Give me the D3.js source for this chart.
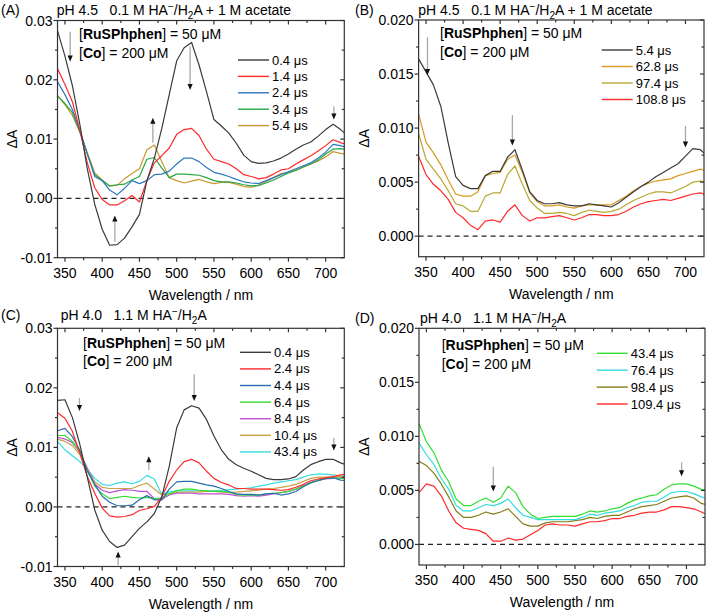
<!DOCTYPE html>
<html><head><meta charset="utf-8">
<script src="https://cdn.jsdelivr.net/npm/d3@7"></script>
<style>body{margin:0;background:#fff}svg{display:block}text{font-family:"Liberation Sans",Arial,sans-serif;fill:#000}</style>
</head><body><svg id="c" width="709" height="615"></svg>
<script>
// ---------- DATA ----------
const wavelengths = [340,350,360,370,380,390,400,410,420,430,440,450,460,470,480,490,500,510,520,530,540,550,560,570,580,590,600,610,620,630,640,650,660,670,680,690,700,710,720,730];
const xTicks = [350,400,450,500,550,600,650,700];
const xTickLabels = ["350","400","450","500","550","600","650","700"];
const xMinorTicks = [375,425,475,525,575,625,675];
const yTicksAC = [-0.01,0,0.01,0.02,0.03];
const yTickLabelsAC = ["-0.01","0.00","0.01","0.02","0.03"];
const yMinorAC = [-0.005,0.005,0.015,0.025];
const yTicksBD = [0,0.005,0.01,0.015,0.02];
const yTickLabelsBD = ["0.000","0.005","0.010","0.015","0.020"];
const yMinorBD = [0.0025,0.0075,0.0125,0.0175];

// Panel A
const A_labels = ["0.4 μs","1.4 μs","2.4 μs","3.4 μs","5.4 μs"];
const A_04 = [0.0283,0.0240,0.0190,0.0125,0.0050,-0.0010,-0.0052,-0.0079,-0.0078,-0.0067,
 -0.0048,-0.0027,0.0030,0.0068,0.0118,0.0175,0.0232,0.0254,0.0263,0.0225,
 0.0180,0.0133,0.0122,0.0110,0.0093,0.0073,0.0062,0.0059,0.0060,0.0063,
 0.0068,0.0075,0.0083,0.0090,0.0095,0.0105,0.0116,0.0125,0.0116,0.0105];
const A_14 = [0.0219,0.0192,0.0163,0.0115,0.0060,0.0018,-0.0002,-0.0011,-0.0011,-0.0004,
 0.0005,-0.0006,0.0030,0.0060,0.0072,0.0085,0.0108,0.0116,0.0118,0.0106,
 0.0083,0.0066,0.0062,0.0058,0.0050,0.0040,0.0037,0.0033,0.0035,0.0041,
 0.0048,0.0050,0.0058,0.0065,0.0072,0.0080,0.0089,0.0099,0.0094,0.0090];
const A_24 = [0.0197,0.0175,0.0150,0.0115,0.0075,0.0037,0.0030,0.0014,0.0006,0.0017,
 0.0030,0.0025,0.0030,0.0040,0.0041,0.0046,0.0058,0.0068,0.0068,0.0062,
 0.0052,0.0044,0.0041,0.0037,0.0032,0.0028,0.0026,0.0025,0.0030,0.0035,
 0.0040,0.0045,0.0050,0.0055,0.0060,0.0068,0.0078,0.0091,0.0089,0.0085];
const A_34 = [0.0173,0.0160,0.0145,0.0112,0.0075,0.0040,0.0030,0.0021,0.0023,0.0024,
 0.0031,0.0037,0.0066,0.0069,0.0051,0.0035,0.0041,0.0041,0.0040,0.0039,
 0.0035,0.0030,0.0028,0.0028,0.0026,0.0023,0.0021,0.0022,0.0026,0.0031,
 0.0037,0.0043,0.0047,0.0053,0.0058,0.0065,0.0075,0.0083,0.0084,0.0082];
const A_54 = [0.0173,0.0158,0.0140,0.0112,0.0077,0.0043,0.0031,0.0021,0.0022,0.0033,
 0.0042,0.0050,0.0082,0.0090,0.0062,0.0035,0.0030,0.0026,0.0029,0.0032,
 0.0028,0.0025,0.0027,0.0027,0.0024,0.0020,0.0019,0.0022,0.0028,0.0035,
 0.0042,0.0044,0.0048,0.0053,0.0058,0.0063,0.0070,0.0079,0.0076,0.0074];
const A_colors = ["#3a3a3a","#ff2a2a","#2f78c0","#28a745","#c99a2e"];

// Panel B
const B_labels = ["5.4 μs","62.8 μs","97.4 μs","108.8 μs"];
const B_54 = [0.0164,0.0152,0.0140,0.0120,0.0086,0.0055,0.0047,0.0044,0.0044,0.0056,
 0.0060,0.0060,0.0073,0.0080,0.0061,0.0041,0.0033,0.0030,0.0030,0.0031,
 0.0029,0.0028,0.0028,0.0030,0.0029,0.0028,0.0027,0.0031,0.0036,0.0041,
 0.0046,0.0050,0.0055,0.0059,0.0063,0.0067,0.0074,0.0081,0.0080,0.0074];
const B_628 = [0.0113,0.0087,0.0077,0.0066,0.0052,0.0039,0.0037,0.0037,0.0041,0.0056,
 0.0058,0.0059,0.0071,0.0075,0.0059,0.0040,0.0032,0.0028,0.0028,0.0029,
 0.0027,0.0026,0.0028,0.0029,0.0029,0.0029,0.0029,0.0033,0.0037,0.0042,
 0.0046,0.0049,0.0051,0.0052,0.0053,0.0056,0.0058,0.0060,0.0062,0.0060];
const B_974 = [0.0095,0.0071,0.0062,0.0053,0.0042,0.0030,0.0028,0.0023,0.0023,0.0037,
 0.0040,0.0040,0.0057,0.0065,0.0048,0.0033,0.0026,0.0021,0.0021,0.0022,
 0.0021,0.0019,0.0022,0.0024,0.0023,0.0022,0.0023,0.0025,0.0029,0.0033,
 0.0036,0.0039,0.0041,0.0041,0.0040,0.0043,0.0046,0.0050,0.0051,0.0050];
const B_1088 = [0.0074,0.0057,0.0048,0.0042,0.0034,0.0022,0.0017,0.0010,0.0006,0.0014,
 0.0015,0.0013,0.0023,0.0029,0.0019,0.0014,0.0017,0.0017,0.0018,0.0019,
 0.0017,0.0015,0.0017,0.0020,0.0020,0.0019,0.0019,0.0020,0.0023,0.0027,
 0.0030,0.0032,0.0033,0.0034,0.0033,0.0035,0.0037,0.0039,0.0040,0.0038];
const B_colors = ["#3a3a3a","#d69a1e","#b8a832","#ff2a2a"];

// Panel C
const C_labels = ["0.4 μs","2.4 μs","4.4 μs","6.4 μs","8.4 μs","10.4 μs","43.4 μs"];
const C_04 = [0.0179,0.0180,0.0150,0.0105,0.0050,-0.0005,-0.0039,-0.0058,-0.0068,-0.0064,
 -0.0050,-0.0036,-0.0025,-0.0011,0.0017,0.0068,0.0133,0.0163,0.0170,0.0166,
 0.0147,0.0119,0.0096,0.0080,0.0071,0.0065,0.0060,0.0054,0.0048,0.0046,
 0.0046,0.0047,0.0051,0.0062,0.0071,0.0076,0.0080,0.0080,0.0074,0.0070];
const C_24 = [0.0158,0.0149,0.0127,0.0090,0.0051,0.0023,-0.0002,-0.0015,-0.0017,-0.0016,
 -0.0013,-0.0006,-0.0003,0.0001,0.0017,0.0043,0.0062,0.0076,0.0080,0.0074,
 0.0060,0.0048,0.0041,0.0037,0.0031,0.0031,0.0030,0.0030,0.0030,0.0029,
 0.0028,0.0029,0.0033,0.0038,0.0044,0.0047,0.0049,0.0051,0.0054,0.0055];
const C_44 = [0.0128,0.0132,0.0118,0.0095,0.0060,0.0038,0.0018,0.0008,0.0002,0.0002,
 0.0003,0.0012,0.0019,0.0012,0.0012,0.0030,0.0042,0.0043,0.0043,0.0040,
 0.0037,0.0035,0.0031,0.0026,0.0022,0.0021,0.0021,0.0020,0.0022,0.0023,
 0.0020,0.0022,0.0026,0.0034,0.0041,0.0044,0.0048,0.0049,0.0045,0.0044];
const C_64 = [0.0120,0.0120,0.0110,0.0092,0.0062,0.0035,0.0022,0.0014,0.0016,0.0018,
 0.0016,0.0015,0.0016,0.0014,0.0015,0.0022,0.0027,0.0030,0.0030,0.0028,
 0.0027,0.0026,0.0026,0.0025,0.0021,0.0020,0.0020,0.0020,0.0022,0.0023,
 0.0024,0.0026,0.0030,0.0035,0.0040,0.0045,0.0048,0.0049,0.0048,0.0048];
const C_84 = [0.0117,0.0114,0.0108,0.0092,0.0065,0.0038,0.0028,0.0024,0.0027,0.0029,
 0.0028,0.0026,0.0026,0.0014,0.0013,0.0020,0.0023,0.0023,0.0023,0.0022,
 0.0022,0.0022,0.0022,0.0021,0.0019,0.0018,0.0019,0.0018,0.0020,0.0022,
 0.0024,0.0026,0.0030,0.0036,0.0041,0.0045,0.0047,0.0048,0.0049,0.0049];
const C_104 = [0.0114,0.0110,0.0103,0.0088,0.0065,0.0042,0.0033,0.0031,0.0031,0.0031,
 0.0031,0.0036,0.0040,0.0030,0.0020,0.0022,0.0024,0.0025,0.0025,0.0025,
 0.0026,0.0026,0.0025,0.0024,0.0025,0.0026,0.0027,0.0028,0.0030,0.0031,
 0.0033,0.0035,0.0038,0.0043,0.0048,0.0050,0.0050,0.0051,0.0051,0.0050];
const C_434 = [0.0110,0.0096,0.0086,0.0076,0.0063,0.0048,0.0038,0.0036,0.0040,0.0042,
 0.0039,0.0043,0.0053,0.0047,0.0021,0.0025,0.0027,0.0027,0.0027,0.0027,
 0.0027,0.0027,0.0028,0.0029,0.0030,0.0031,0.0032,0.0035,0.0037,0.0040,
 0.0042,0.0044,0.0046,0.0050,0.0054,0.0055,0.0055,0.0054,0.0052,0.0050];
const C_colors = ["#3a3a3a","#ff2a2a","#2a6cb0","#33dd33","#c050d0","#c9a24a","#33dddd"];

// Panel D
const D_labels = ["43.4 μs","76.4 μs","98.4 μs","109.4 μs"];
const D_434 = [0.0112,0.0095,0.0085,0.0069,0.0058,0.0042,0.0036,0.0036,0.0040,0.0043,
 0.0039,0.0043,0.0054,0.0048,0.0035,0.0028,0.0024,0.0025,0.0026,0.0026,
 0.0026,0.0026,0.0028,0.0031,0.0030,0.0031,0.0033,0.0034,0.0038,0.0041,
 0.0043,0.0045,0.0046,0.0051,0.0055,0.0056,0.0056,0.0054,0.0051,0.0050];
const D_764 = [0.0094,0.0083,0.0074,0.0061,0.0051,0.0036,0.0031,0.0031,0.0034,0.0037,
 0.0036,0.0038,0.0042,0.0034,0.0027,0.0025,0.0023,0.0023,0.0023,0.0023,
 0.0023,0.0023,0.0025,0.0028,0.0027,0.0029,0.0030,0.0031,0.0034,0.0036,
 0.0039,0.0040,0.0040,0.0044,0.0048,0.0049,0.0049,0.0047,0.0044,0.0042];
const D_984 = [0.0077,0.0073,0.0066,0.0056,0.0044,0.0031,0.0025,0.0025,0.0027,0.0030,
 0.0028,0.0030,0.0033,0.0026,0.0019,0.0017,0.0017,0.0020,0.0021,0.0021,
 0.0021,0.0022,0.0023,0.0025,0.0024,0.0026,0.0027,0.0027,0.0030,0.0033,
 0.0035,0.0036,0.0037,0.0040,0.0043,0.0044,0.0045,0.0043,0.0038,0.0036];
const D_1094 = [0.0048,0.0056,0.0054,0.0045,0.0031,0.0020,0.0015,0.0014,0.0013,0.0010,
 0.0003,0.0003,0.0006,0.0004,0.0005,0.0009,0.0013,0.0018,0.0019,0.0018,
 0.0018,0.0017,0.0019,0.0021,0.0021,0.0022,0.0024,0.0024,0.0026,0.0027,
 0.0029,0.0030,0.0030,0.0032,0.0035,0.0035,0.0034,0.0033,0.0030,0.0027];
const D_colors = ["#33dd33","#33dddd","#877c18","#ff2a2a"];

// arrows: [wavelength, tail value, head value]
const A_arrows = [[357,0.0281,0.0231],[518,0.0256,0.0183],[711,0.0155,0.0133],[468,0.0094,0.0136],[417,-0.0073,-0.0029]];
const B_arrows = [[352,0.0184,0.0149],[466.5,0.0112,0.0084],[700,0.0102,0.0082]];
const C_arrows = [[369.5,0.0183,0.0161],[523.5,0.0223,0.0178],[711,0.0116,0.0095],[462.6,0.0062,0.0085],[421.4,-0.0098,-0.0075]];
const D_arrows = [[440,0.0072,0.0049],[693.5,0.0076,0.0063]];

// ---------- DRAW ----------
const svg = d3.select("#c");
const FONT = '"Liberation Sans",Arial,sans-serif';

function drawTitle(x, y, parts){
  const t = svg.append("text").attr("x", x).attr("y", y).attr("font-size", 14);
  parts.forEach(p => {
    const ts = t.append("tspan").text(p.t);
    if (p.dy) ts.attr("dy", p.dy);
    if (p.fs) ts.attr("font-size", p.fs);
  });
}

function drawPanel(cfg){
  const {l,t,r,b} = cfg.box;
  const x = d3.scaleLinear().domain([340,725]).range([l,r]);
  const y = d3.scaleLinear().domain(cfg.yDomain).range([b,t]);
  const g = svg.append("g");
  const clipId = "clip" + cfg.tag;
  svg.append("clipPath").attr("id", clipId).append("rect")
    .attr("x", l).attr("y", t).attr("width", r-l).attr("height", b-t);

  // zero dashed line
  g.append("line").attr("x1", l).attr("x2", r).attr("y1", y(0)).attr("y2", y(0))
    .attr("stroke", "#222").attr("stroke-width", 1.2).attr("stroke-dasharray", "5,4");

  // series
  const line = d3.line().x((d,i)=>x(wavelengths[i])).y(d=>y(d));
  const sg = g.append("g").attr("clip-path", `url(#${clipId})`);
  cfg.series.slice().reverse().forEach(s => {
    sg.append("path").datum(s.values).attr("d", line)
      .attr("fill","none").attr("stroke", s.color).attr("stroke-width", 1.2)
      .attr("stroke-linejoin","round");
  });

  // arrows
  cfg.arrows.forEach(a => {
    const ax = x(a[0]), y1 = y(a[1]), y2 = y(a[2]);
    const dir = y2 > y1 ? 1 : -1;
    g.append("line").attr("x1", ax).attr("x2", ax).attr("y1", y1).attr("y2", y2 - dir*5)
      .attr("stroke", "#a8a8a8").attr("stroke-width", 1.3);
    g.append("path").attr("d", `M${ax-2.6},${y2-dir*6}L${ax+2.6},${y2-dir*6}L${ax},${y2}Z`)
      .attr("fill", "#111");
  });

  // axes
  const ax = g.append("g").attr("stroke", "#333").attr("stroke-width", 1.2);
  ax.append("rect").attr("x", l).attr("y", t).attr("width", r-l).attr("height", b-t)
    .attr("fill", "none");
  xTicks.forEach(v => {
    ax.append("line").attr("x1", x(v)).attr("x2", x(v)).attr("y1", b).attr("y2", b+4);
    ax.append("line").attr("x1", x(v)).attr("x2", x(v)).attr("y1", t).attr("y2", t+4);
  });
  xMinorTicks.forEach(v => {
    ax.append("line").attr("x1", x(v)).attr("x2", x(v)).attr("y1", b).attr("y2", b+2.5);
    ax.append("line").attr("x1", x(v)).attr("x2", x(v)).attr("y1", t).attr("y2", t+2.5);
  });
  cfg.yTicks.forEach(v => {
    ax.append("line").attr("x1", l-4).attr("x2", l).attr("y1", y(v)).attr("y2", y(v));
    ax.append("line").attr("x1", r-4).attr("x2", r).attr("y1", y(v)).attr("y2", y(v));
  });
  cfg.yMinor.forEach(v => {
    ax.append("line").attr("x1", l-2.5).attr("x2", l).attr("y1", y(v)).attr("y2", y(v));
    ax.append("line").attr("x1", r-2.5).attr("x2", r).attr("y1", y(v)).attr("y2", y(v));
  });
  xTicks.forEach((v,i) => {
    g.append("text").attr("x", x(v)).attr("y", b+20).attr("text-anchor","middle")
      .attr("font-size", 14).text(xTickLabels[i]);
  });
  cfg.yTicks.forEach((v,i) => {
    g.append("text").attr("x", l-5).attr("y", y(v)+5).attr("text-anchor","end")
      .attr("font-size", 14).text(cfg.yTickLabels[i]);
  });
  g.append("text").attr("x", (l+r)/2).attr("y", b+42).attr("text-anchor","middle")
    .attr("font-size", 14).text("Wavelength / nm");
  g.append("text").attr("transform", `translate(${cfg.ylabX},${(t+b)/2}) rotate(-90)`)
    .attr("text-anchor","middle").attr("font-size", 14).text("ΔA");

  // note
  const n1 = g.append("text").attr("x", cfg.note[0]).attr("y", cfg.note[1]).attr("font-size", 14);
  n1.append("tspan").text("[");
  n1.append("tspan").attr("font-weight","bold").text("RuSPhphen");
  n1.append("tspan").text("] = 50 μM");
  const n2 = g.append("text").attr("x", cfg.note[0]).attr("y", cfg.note[1]+18.5).attr("font-size", 14);
  n2.append("tspan").text("[");
  n2.append("tspan").attr("font-weight","bold").text("Co");
  n2.append("tspan").text("] = 200 μM");

  // legend
  cfg.series.forEach((s,i) => {
    const ly = cfg.legend.y + i*cfg.legend.dy;
    g.append("line").attr("x1", cfg.legend.x).attr("x2", cfg.legend.x+31)
      .attr("y1", ly).attr("y2", ly).attr("stroke", s.color).attr("stroke-width", 1.4);
    g.append("text").attr("x", cfg.legend.x+34).attr("y", ly+4.5).attr("font-size", 13)
      .text(s.label);
  });

  // tag
  svg.append("text").attr("x", cfg.tagPos[0]).attr("y", cfg.tagPos[1]).attr("font-size", 14)
    .text("(" + cfg.tag + ")");
}

drawPanel({tag:"A", box:{l:57.5,t:20.5,r:344.3,b:257.7}, yDomain:[-0.01,0.03],
  yTicks:yTicksAC, yTickLabels:yTickLabelsAC, yMinor:yMinorAC, ylabX:17,
  series:A_labels.map((lb,i)=>({label:lb, color:A_colors[i], values:[A_04,A_14,A_24,A_34,A_54][i]})),
  legend:{x:238, y:60, dy:16.4}, note:[79,39], arrows:A_arrows, tagPos:[1,15]});
drawPanel({tag:"B", box:{l:418.6,t:20,r:704,b:256.7}, yDomain:[-0.0019,0.02],
  yTicks:yTicksBD, yTickLabels:yTickLabelsBD, yMinor:yMinorBD, ylabX:369,
  series:B_labels.map((lb,i)=>({label:lb, color:B_colors[i], values:[B_54,B_628,B_974,B_1088][i]})),
  legend:{x:601.7, y:50, dy:16.5}, note:[440,38], arrows:B_arrows, tagPos:[355,15]});
drawPanel({tag:"C", box:{l:57.5,t:328.3,r:344.3,b:566.5}, yDomain:[-0.01,0.03],
  yTicks:yTicksAC, yTickLabels:yTickLabelsAC, yMinor:yMinorAC, ylabX:17,
  series:C_labels.map((lb,i)=>({label:lb, color:C_colors[i], values:[C_04,C_24,C_44,C_64,C_84,C_104,C_434][i]})),
  legend:{x:240, y:352.3, dy:16.6}, note:[83,347.5], arrows:C_arrows, tagPos:[1,320]});
drawPanel({tag:"D", box:{l:419,t:328.3,r:705,b:565}, yDomain:[-0.0019,0.02],
  yTicks:yTicksBD, yTickLabels:yTickLabelsBD, yMinor:yMinorBD, ylabX:369,
  series:D_labels.map((lb,i)=>({label:lb, color:D_colors[i], values:[D_434,D_764,D_984,D_1094][i]})),
  legend:{x:596.7, y:353.3, dy:16.9}, note:[441.7,350], arrows:D_arrows, tagPos:[355,323]});

const sp = "\u00a0\u00a0\u00a0";
drawTitle(56.7, 15, [{t:"pH 4.5"+sp+"0.1 M HA"},{t:"−",dy:-5,fs:10},{t:"/H",dy:5},{t:"2",dy:4,fs:10},{t:"A + 1 M acetate",dy:-4}]);
drawTitle(418.3, 15, [{t:"pH 4.5"+sp+"0.1 M HA"},{t:"−",dy:-5,fs:10},{t:"/H",dy:5},{t:"2",dy:4,fs:10},{t:"A + 1 M acetate",dy:-4}]);
drawTitle(60.7, 320, [{t:"pH 4.0"+sp+"1.1 M HA"},{t:"−",dy:-5,fs:10},{t:"/H",dy:5},{t:"2",dy:4,fs:10},{t:"A",dy:-4}]);
drawTitle(420, 323, [{t:"pH 4.0"+sp+"1.1 M HA"},{t:"−",dy:-5,fs:10},{t:"/H",dy:5},{t:"2",dy:4,fs:10},{t:"A",dy:-4}]);
</script></body></html>
